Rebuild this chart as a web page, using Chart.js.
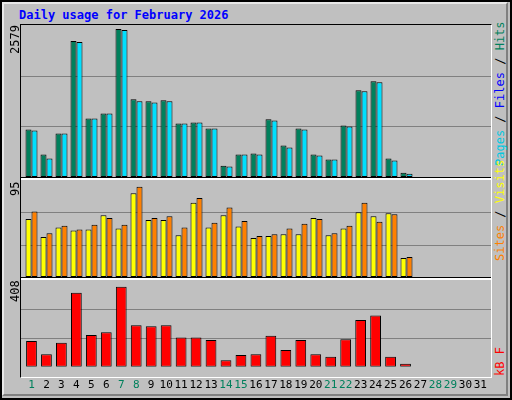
<!DOCTYPE html>
<html><head><meta charset="utf-8">
<script src="https://cdn.jsdelivr.net/npm/chart.js@4"></script>
<style>
  body { margin:0; width:512px; height:400px; background:#fff; overflow:hidden; font-family:"DejaVu Sans Mono", monospace; }
  #frame { position:absolute; left:0; top:0; width:508px; height:396px; border:2px solid #000; background:#c0c0c0; }
  #bevel { position:absolute; left:2px; top:2px; width:502px; height:390px; border-top:2px solid #e8e8e8; border-left:2px solid #e8e8e8; border-right:2px solid #808080; border-bottom:2px solid #808080; }
  #plot { position:absolute; left:20px; top:24px; width:470px; height:352px; border-top:1px solid #000; border-left:1px solid #000; border-right:1px solid #fff; border-bottom:1px solid #fff; }
  .sep { position:absolute; left:21px; width:470px; height:2px; background:#fff; border-top:1px solid #000; }
  canvas { position:absolute; }
  .rot { position:absolute; transform:rotate(-90deg); transform-origin:left top; white-space:nowrap; font-size:12px; }
  #title { position:absolute; left:19px; top:8px; color:#0000ff; font-weight:bold; font-size:12px; }
</style></head>
<body>
<div id="frame"></div><div id="bevel"></div>
<div id="title">Daily usage for February 2026</div>
<div id="plot"></div>
<div class="sep" style="top:177px"></div>
<div class="sep" style="top:277px"></div>
<canvas id="top"></canvas>
<canvas id="mid"></canvas>
<canvas id="bot"></canvas>
<div class="rot" style="left:8px; top:54px; color:#000">2579</div>
<div class="rot" style="left:8px; top:196px; color:#000">95</div>
<div class="rot" style="left:8px; top:302px; color:#000">408</div>
<div class="rot" style="left:493px; top:166px"><span style="color:#00c8e0">Pages</span> <span style="color:#000">/</span> <span style="color:#0000ff">Files</span> <span style="color:#000">/</span> <span style="color:#00805c">Hits</span></div>
<div class="rot" style="left:493px; top:261px"><span style="color:#ff8000">Sites</span> <span style="color:#000">/</span> <span style="color:#ffff00">Visits</span></div>
<div class="rot" style="left:493px; top:376px"><span style="color:#ff0000">kB F</span></div>
<script>
const days = Array.from({length: 31}, (_, i) => String(i + 1));
const weekend = [1, 7, 8, 14, 15, 21, 22, 28, 29];
const hits   = [829, 391, 759, 2369, 1021, 1109, 2579, 1354, 1319, 1336, 934, 951, 846, 198, 391, 408, 1009, 548, 846, 391, 303, 899, 1511, 1669, 321, 76];
const pages  = [811, 321, 759, 2352, 1021, 1109, 2562, 1319, 1301, 1319, 934, 951, 846, 181, 391, 391, 986, 513, 829, 373, 303, 881, 1494, 1651, 286, 58];
const sites  = [61, 42, 52, 49, 50, 65, 51, 88, 60, 60, 44, 78, 52, 65, 53, 41, 43, 45, 45, 62, 44, 51, 68, 64, 67, 20];
const visits = [69, 46, 54, 50, 55, 62, 55, 95, 62, 64, 52, 83, 57, 73, 59, 43, 45, 51, 56, 61, 46, 54, 78, 58, 66, 21];
const kbytes = [131, 64, 122, 377, 162, 176, 408, 211, 207, 211, 149, 149, 136, 33, 60, 64, 158, 86, 136, 64, 51, 140, 238, 261, 51, 15];

Chart.defaults.animation = false;
Chart.defaults.font.family = "'DejaVu Sans Mono', monospace";

function place(id, x, y, w, h) {
  const c = document.getElementById(id);
  c.style.left = x + 'px'; c.style.top = y + 'px';
  c.style.width = w + 'px'; c.style.height = h + 'px';
  return c;
}

// grid lines drawn across the whole panel width, bars in an inset area
const gridLines = {
  id: 'gridLines',
  beforeDatasetsDraw(chart) {
    const { ctx, scales: { y } } = chart;
    ctx.save();
    ctx.strokeStyle = '#808080'; ctx.lineWidth = 1;
    [y.max / 3, y.max * 2 / 3].forEach(v => {
      const py = Math.round(y.getPixelForValue(v)) + 0.5;
      ctx.beginPath(); ctx.moveTo(0, py); ctx.lineTo(chart.width, py); ctx.stroke();
    });
    ctx.restore();
  },
};

function panel(id, box, datasets, max, cat, showX) {
  new Chart(place(id, ...box), {
    type: 'bar',
    data: { labels: days, datasets },
    plugins: [gridLines],
    options: {
      responsive: false, maintainAspectRatio: false,
      layout: { padding: { left: 3, right: 2 } },
      plugins: { legend: { display: false }, tooltip: { enabled: false } },
      datasets: { bar: { categoryPercentage: cat, barPercentage: 1, borderColor: '#000', borderWidth: 1, borderSkipped: false } },
      scales: {
        x: {
          display: showX, grid: { display: false }, border: { display: false },
          ticks: { autoSkip: false, maxRotation: 0, padding: 4, font: { size: 11 },
                   color: ctx => weekend.includes(ctx.index + 1) ? '#00805c' : '#000' },
        },
        y: { display: false, min: 0, max },
      },
    },
  });
}

panel('top', [21, 25, 470, 152], [
  { data: hits,  backgroundColor: '#00805c' },
  { data: pages, backgroundColor: '#00e0ff' },
], 2650, 0.8, false);

panel('mid', [21, 180, 470, 97], [
  { data: sites,  backgroundColor: '#ffff00' },
  { data: visits, backgroundColor: '#ff8000' },
], 102, 0.8, false);

panel('bot', [21, 280, 470, 116], [
  { data: kbytes, backgroundColor: '#ff0000' },
], 442, 0.72, true);
</script>
</body></html>
